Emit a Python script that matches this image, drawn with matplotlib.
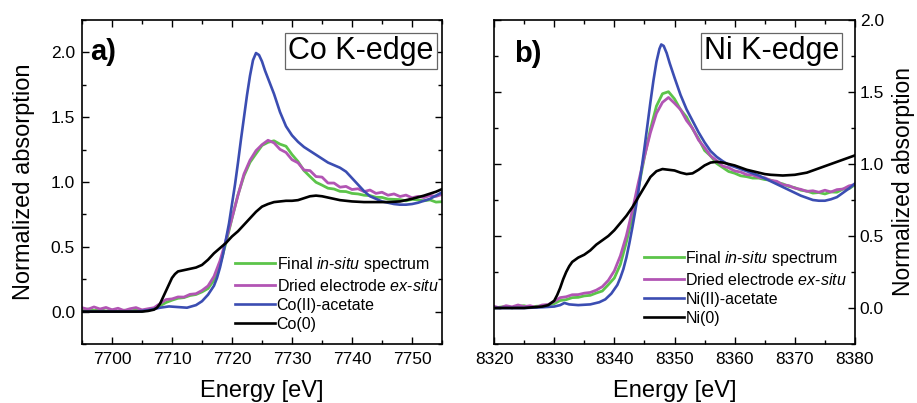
import numpy as np
import matplotlib
matplotlib.use("Agg")
import matplotlib.pyplot as plt
from matplotlib.ticker import MultipleLocator

plt.rcParams["font.family"] = ["Liberation Sans", "DejaVu Sans"]
plt.rcParams["mathtext.fontset"] = "custom"
plt.rcParams["mathtext.rm"] = "Liberation Sans"
plt.rcParams["mathtext.it"] = "Liberation Sans:italic"

# ---------------- Co K-edge ----------------
co_e_scan = list(range(7695, 7756))
co_insitu = [0.01, 0.02, 0.008, 0.016, 0.004, 0.012, 0.0, 0.011, 0.004, 0.012,
             0.003, 0.011, 0.022, 0.045, 0.07, 0.088, 0.103, 0.108, 0.124, 0.132,
             0.152, 0.178, 0.242, 0.362, 0.532, 0.72, 0.902, 1.048, 1.152, 1.218,
             1.282, 1.306, 1.318, 1.292, 1.276, 1.212, 1.158, 1.088, 1.042, 0.998,
             0.976, 0.952, 0.946, 0.928, 0.926, 0.912, 0.908, 0.898, 0.895, 0.882,
             0.881, 0.868, 0.866, 0.864, 0.855, 0.866, 0.862, 0.855, 0.862, 0.845, 0.848]
co_exsitu = [0.03, 0.018, 0.036, 0.02, 0.032, 0.014, 0.026, 0.008, 0.022, 0.031,
             0.013, 0.022, 0.03, 0.062, 0.093, 0.098, 0.113, 0.112, 0.133, 0.138,
             0.163, 0.198, 0.272, 0.392, 0.552, 0.722, 0.898, 1.062, 1.168, 1.242,
             1.288, 1.322, 1.302, 1.252, 1.228, 1.172, 1.148, 1.092, 1.088, 1.042,
             1.038, 0.992, 0.992, 0.96, 0.966, 0.942, 0.948, 0.926, 0.938, 0.912,
             0.921, 0.898, 0.908, 0.888, 0.899, 0.878, 0.889, 0.88, 0.896, 0.889, 0.904]

co_e_ref = [7695, 7700, 7704, 7706, 7708, 7709.5, 7711, 7712.5, 7714, 7715,
            7716, 7717, 7717.5, 7718, 7718.5, 7719, 7719.5, 7720, 7720.5, 7721,
            7721.5, 7722, 7722.5, 7723, 7723.5, 7724, 7724.5, 7725, 7725.5, 7726,
            7727, 7728, 7729, 7730, 7731, 7732, 7733, 7734, 7735, 7736,
            7737, 7738, 7739, 7740, 7741, 7742, 7743, 7744, 7745, 7746,
            7747, 7748, 7749, 7750, 7751, 7752, 7753, 7754, 7755]
co_acetate = [0.0, 0.0, 0.0, 0.01, 0.03, 0.04, 0.035, 0.03, 0.05, 0.08,
              0.13, 0.20, 0.26, 0.34, 0.44, 0.56, 0.68, 0.83, 0.98, 1.15,
              1.33, 1.50, 1.67, 1.82, 1.94, 1.995, 1.98, 1.93, 1.86, 1.80,
              1.68, 1.54, 1.43, 1.36, 1.31, 1.27, 1.24, 1.21, 1.18, 1.15,
              1.13, 1.11, 1.08, 1.03, 0.98, 0.93, 0.89, 0.87, 0.85, 0.84,
              0.83, 0.825, 0.825, 0.83, 0.84, 0.855, 0.87, 0.895, 0.92]

co_e_metal = [7695, 7700, 7705, 7706, 7707, 7707.5, 7708, 7708.5, 7709, 7709.5,
              7710, 7710.5, 7711, 7712, 7713, 7714, 7715, 7716, 7717, 7718,
              7719, 7720, 7721, 7722, 7723, 7724, 7725, 7726, 7727, 7728,
              7729, 7730, 7731, 7732, 7733, 7734, 7735, 7736, 7737, 7738,
              7739, 7740, 7742, 7744, 7746, 7748, 7750, 7752, 7754, 7755]
co_metal = [0.0, 0.0, 0.0, 0.005, 0.015, 0.03, 0.06, 0.11, 0.16, 0.21,
            0.26, 0.29, 0.31, 0.32, 0.33, 0.34, 0.36, 0.40, 0.45, 0.49,
            0.53, 0.58, 0.62, 0.67, 0.72, 0.77, 0.81, 0.83, 0.845, 0.85,
            0.855, 0.855, 0.86, 0.875, 0.89, 0.895, 0.89, 0.88, 0.87, 0.86,
            0.855, 0.85, 0.845, 0.845, 0.845, 0.85, 0.87, 0.895, 0.925, 0.945]

# ---------------- Ni K-edge ----------------
ni_e_scan = list(range(8320, 8381))
ni_insitu = [0.0, 0.006, 0.011, 0.0, 0.012, 0.016, 0.004, 0.012, 0.014, 0.022,
             0.03, 0.052, 0.058, 0.072, 0.074, 0.084, 0.088, 0.104, 0.118, 0.162,
             0.208, 0.302, 0.458, 0.632, 0.832, 1.048, 1.242, 1.402, 1.488, 1.502,
             1.452, 1.378, 1.326, 1.244, 1.176, 1.094, 1.056, 1.004, 0.976, 0.948,
             0.936, 0.918, 0.912, 0.902, 0.902, 0.892, 0.888, 0.872, 0.862, 0.844,
             0.836, 0.818, 0.812, 0.798, 0.802, 0.792, 0.806, 0.804, 0.826, 0.828, 0.856]
ni_exsitu = [0.012, 0.0, 0.016, 0.008, 0.021, 0.009, 0.016, 0.004, 0.021, 0.024,
             0.046, 0.072, 0.078, 0.092, 0.093, 0.103, 0.108, 0.124, 0.148, 0.192,
             0.258, 0.362, 0.502, 0.678, 0.872, 1.052, 1.218, 1.352, 1.428, 1.462,
             1.422, 1.378, 1.302, 1.248, 1.166, 1.114, 1.056, 1.024, 0.986, 0.974,
             0.952, 0.944, 0.926, 0.924, 0.906, 0.904, 0.886, 0.88, 0.856, 0.85,
             0.832, 0.824, 0.81, 0.814, 0.804, 0.818, 0.806, 0.822, 0.826, 0.848, 0.858]

ni_e_ref = [8320, 8325, 8328, 8330, 8331, 8331.7, 8332.5, 8334, 8336, 8337.5,
            8338.5, 8339.5, 8340.5, 8341, 8341.5, 8342, 8342.5, 8343, 8343.5, 8344,
            8344.5, 8345, 8345.5, 8346, 8346.5, 8347, 8347.5, 8347.8, 8348.2, 8348.7,
            8349.2, 8350, 8351, 8352, 8353, 8354, 8355, 8356, 8357, 8358,
            8359, 8360, 8361, 8362, 8363, 8364, 8365, 8366, 8367, 8368,
            8369, 8370, 8371, 8372, 8373, 8374, 8375, 8376, 8377, 8378, 8379, 8380]
ni_acetate = [0.0, 0.0, 0.005, 0.01, 0.02, 0.035, 0.025, 0.02, 0.025, 0.04,
              0.06, 0.10, 0.16, 0.21, 0.27, 0.35, 0.45, 0.56, 0.68, 0.81,
              0.96, 1.11, 1.27, 1.43, 1.58, 1.71, 1.80, 1.83, 1.82, 1.77,
              1.70, 1.60, 1.48, 1.38, 1.30, 1.22, 1.15, 1.09, 1.05, 1.02,
              0.995, 0.98, 0.965, 0.95, 0.935, 0.92, 0.90, 0.88, 0.86, 0.84,
              0.82, 0.80, 0.78, 0.765, 0.75, 0.745, 0.745, 0.755, 0.77, 0.80, 0.83, 0.865]

ni_e_metal = [8320, 8325, 8328, 8329, 8330, 8330.5, 8331, 8331.5, 8332, 8332.5,
              8333, 8334, 8335, 8336, 8337, 8338, 8339, 8340, 8341, 8342,
              8343, 8344, 8345, 8346, 8347, 8348, 8349, 8350, 8351, 8352,
              8353, 8354, 8355, 8356, 8357, 8358, 8359, 8360, 8361, 8362,
              8363, 8364, 8365, 8366, 8368, 8370, 8372, 8374, 8376, 8378, 8380]
ni_metal = [0.0, 0.0, 0.01, 0.02, 0.05, 0.09, 0.14, 0.20, 0.25, 0.29,
            0.32, 0.35, 0.37, 0.40, 0.44, 0.47, 0.50, 0.54, 0.59, 0.64,
            0.70, 0.77, 0.84, 0.91, 0.95, 0.965, 0.96, 0.955, 0.94, 0.93,
            0.935, 0.96, 0.99, 1.01, 1.015, 1.01, 1.0, 0.99, 0.975, 0.96,
            0.95, 0.94, 0.93, 0.925, 0.92, 0.925, 0.94, 0.97, 1.0, 1.03, 1.06]

GREEN = "#5cc44a"
MAGENTA = "#b255b4"
BLUE = "#3b4db2"
BLACK = "#000000"

fig = plt.figure(figsize=(9.17, 4.03), dpi=100)
ax1 = fig.add_axes([82 / 917, 1 - 344 / 403, 360 / 917, 324 / 403])
ax2 = fig.add_axes([494 / 917, 1 - 344 / 403, 361 / 917, 324 / 403])

panels = [
    (ax1, "Co", co_e_scan, co_insitu, co_exsitu, co_e_ref, co_acetate,
     co_e_metal, co_metal, (7695, 7755), (-0.25, 2.25), "Co K-edge", 0.775),
    (ax2, "Ni", ni_e_scan, ni_insitu, ni_exsitu, ni_e_ref, ni_acetate,
     ni_e_metal, ni_metal, (8320, 8380), (-0.25, 2.0), "Ni K-edge", 0.768),
]

for (ax, el, e_scan, insitu, exsitu, e_ref, acetate, e_metal, metal,
     xlim, ylim, edge, edge_x) in panels:
    ax.plot(e_scan, insitu, color=GREEN, lw=2.0,
            label=r"Final $\mathit{in}$-$\mathit{situ}$ spectrum")
    ax.plot(e_scan, exsitu, color=MAGENTA, lw=2.0,
            label=r"Dried electrode $\mathit{ex}$-$\mathit{situ}$")
    ax.plot(e_ref, acetate, color=BLUE, lw=1.9, label=f"{el}(II)-acetate")
    ax.plot(e_metal, metal, color=BLACK, lw=1.9, label=f"{el}(0)")
    ax.set_xlim(*xlim)
    ax.set_ylim(*ylim)
    ax.xaxis.set_major_locator(MultipleLocator(10))
    ax.xaxis.set_minor_locator(MultipleLocator(5))
    ax.yaxis.set_major_locator(MultipleLocator(0.5))
    ax.yaxis.set_minor_locator(MultipleLocator(0.25))
    ax.tick_params(which="both", direction="in", top=True, right=True,
                   left=True, bottom=True, width=1.0)
    ax.tick_params(which="major", length=5, labelsize=12.5)
    ax.tick_params(which="minor", length=3)
    ax.tick_params(axis="x", pad=6)
    for sp in ax.spines.values():
        sp.set_linewidth(1.2)
    ax.set_xlabel("Energy [eV]", fontsize=17)
    ax.xaxis.set_label_coords(0.5, -0.11)
    ax.text(edge_x, 0.904, edge, transform=ax.transAxes,
            fontsize=22, ha="center", va="center",
            bbox=dict(boxstyle="square,pad=0.1", fc="white", ec="#666666", lw=0.9))

ax1.text(0.022, 0.902, "a)", transform=ax1.transAxes, fontsize=21,
         fontweight="bold", ha="left", va="center")
ax2.text(0.055, 0.895, "b)", transform=ax2.transAxes, fontsize=21,
         fontweight="bold", ha="left", va="center")

ax1.tick_params(axis="y", labelleft=True, labelright=False, pad=5)
ax1.set_ylabel("Normalized absorption", fontsize=17)
ax1.yaxis.set_label_coords(-0.13, 0.5)

ax2.tick_params(axis="y", labelleft=False, labelright=True, pad=3.5)
ax2.yaxis.set_label_position("right")
ax2.set_ylabel("Normalized absorption", fontsize=16.5)
ax2.yaxis.set_label_coords(1.103, 0.5)

leg_kw = dict(frameon=False, fontsize=11.5, handlelength=2.5, handletextpad=0.1,
              labelspacing=0.25, borderpad=0, borderaxespad=0, loc="upper left")
ax1.legend(bbox_to_anchor=(0.425, 0.275), **leg_kw)
ax2.legend(bbox_to_anchor=(0.415, 0.293), **leg_kw)

fig.savefig("out.png", dpi=100)
